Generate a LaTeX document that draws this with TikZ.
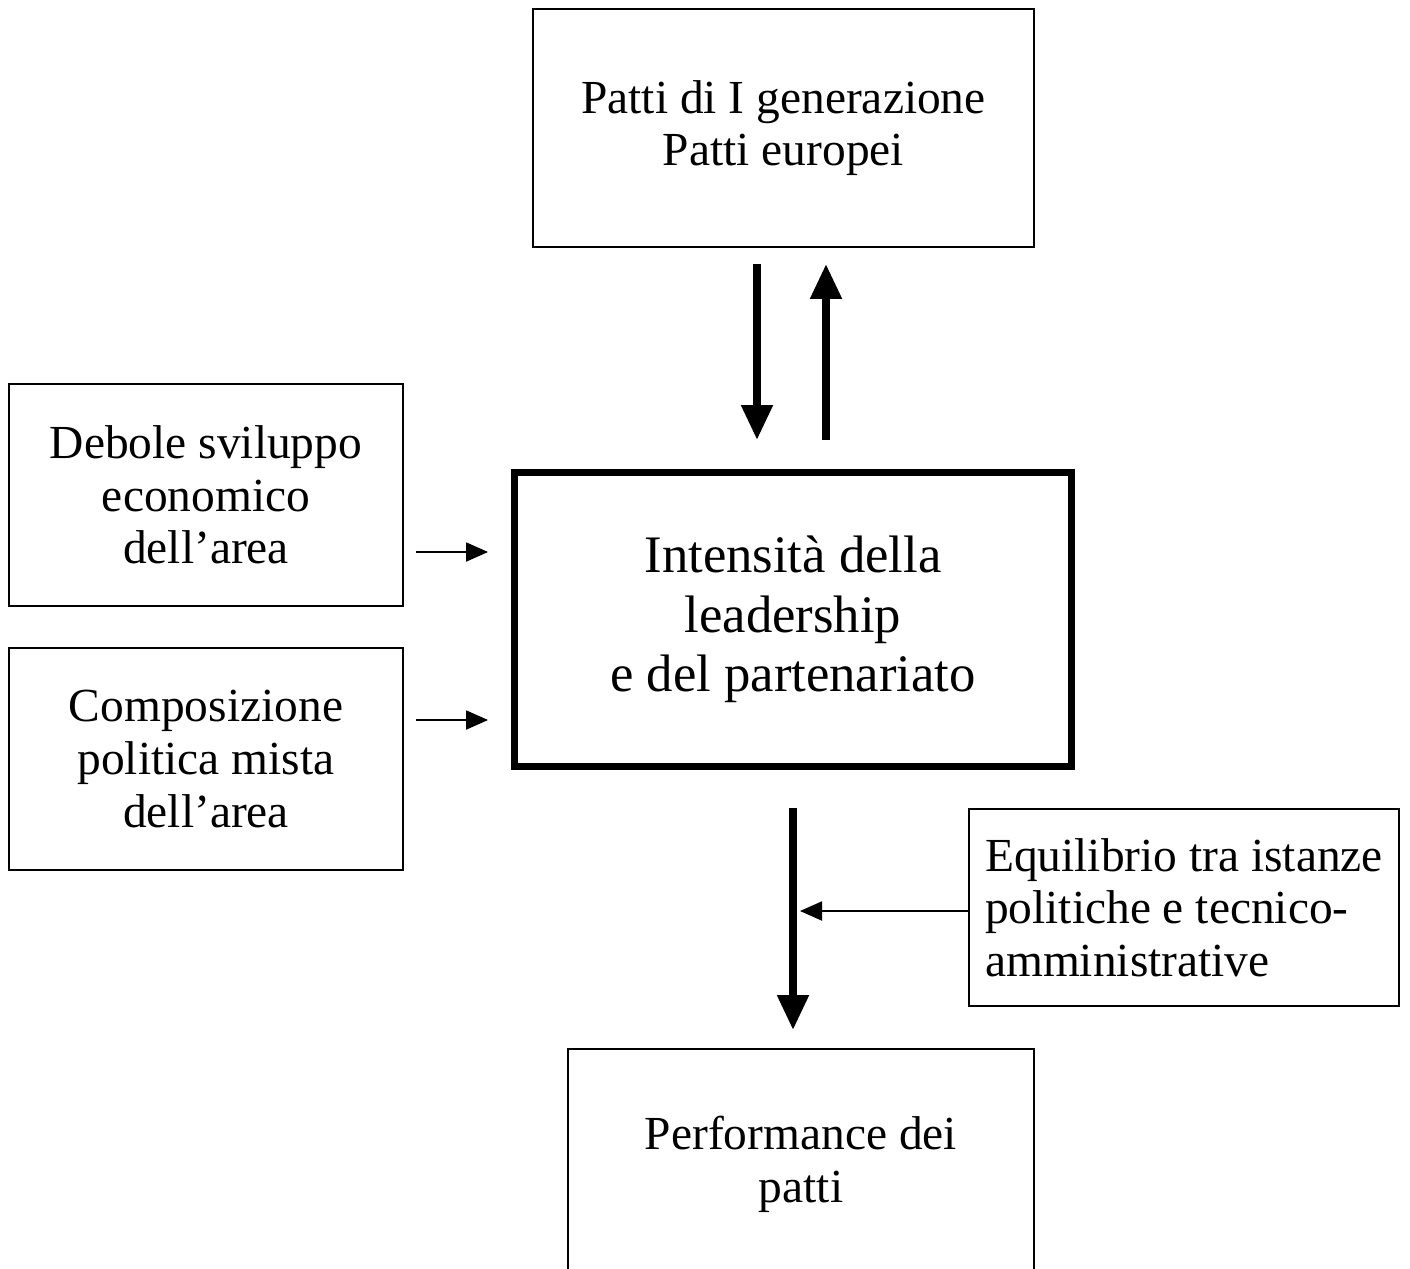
\documentclass[tikz,border=0pt]{standalone}
\usepackage{fontspec}
\setmainfont{Liberation Serif}
\usetikzlibrary{arrows.meta}

\begin{document}
\begin{tikzpicture}[x = 0.02cm, y = -0.02cm]
    \useasboundingbox (0,0) rectangle (1410,1268);
    \begin{scope}[every node/.style={draw, rectangle, line width = 1.1pt, inner sep = 0pt, align = center, font = \fontsize{27}{30}\selectfont}]
    \node[minimum width = 10.02cm, minimum height = 4.76cm] (patti) at (783.5,128) {Patti di I generazione\\Patti europei};
    \node[minimum width = 7.88cm, minimum height = 4.44cm] (debole) at (206,495) {Debole sviluppo\\economico\\dell’area};
    \node[minimum width = 7.88cm, minimum height = 4.44cm] (compos) at (206,759) {Composizione\\politica mista\\dell’area};
    \node[minimum width = 8.6cm, minimum height = 3.94cm, align = left] (equil) at (1184,907.5) {Equilibrio tra istanze\\politiche e tecnico-\\amministrative};
    \node[minimum width = 9.32cm, minimum height = 4.6cm] (perf) at (801,1164) {Performance dei\\patti};
    \end{scope}
    \node[draw, rectangle, line width = 4pt, inner sep = 0pt, minimum width = 11.14cm, minimum height = 5.88cm, align = center, font = \fontsize{30}{34}\selectfont] (lead) at (793,619.5) {Intensità della\\leadership\\e del partenariato};
    \coordinate (dn) at (757,0);
    \coordinate (up) at (826,0);
    \coordinate (in1) at (0,552);
    \coordinate (in2) at (0,720);
    \coordinate (in3) at (0,911);
    \begin{scope}[line width = 4.5pt, -{Triangle[width = 0.6cm, length = 0.7cm]}]
      \draw[shorten <= 0.32cm, shorten >= 0.58cm] (patti.south -| dn) -- (lead.north -| dn);
      \draw[shorten <= 0.58cm, shorten >= 0.32cm] (lead.north -| up) -- (patti.south -| up);
      \draw[shorten <= 0.76cm, shorten >= 0.36cm] (lead.south) -- (perf.north -| lead.south);
    \end{scope}
    \begin{scope}[line width = 1.1pt, -{Triangle[width = 0.38cm, length = 0.44cm]}]
      \draw[shorten <= 0.24cm, shorten >= 0.46cm] (debole.east |- in1) -- (lead.west |- in1);
      \draw[shorten <= 0.24cm, shorten >= 0.46cm] (compos.east |- in2) -- (lead.west |- in2);
      \draw[shorten >= 0.14cm] (equil.west |- in3) -- (lead.south |- in3);
    \end{scope}
\end{tikzpicture}
\end{document}
